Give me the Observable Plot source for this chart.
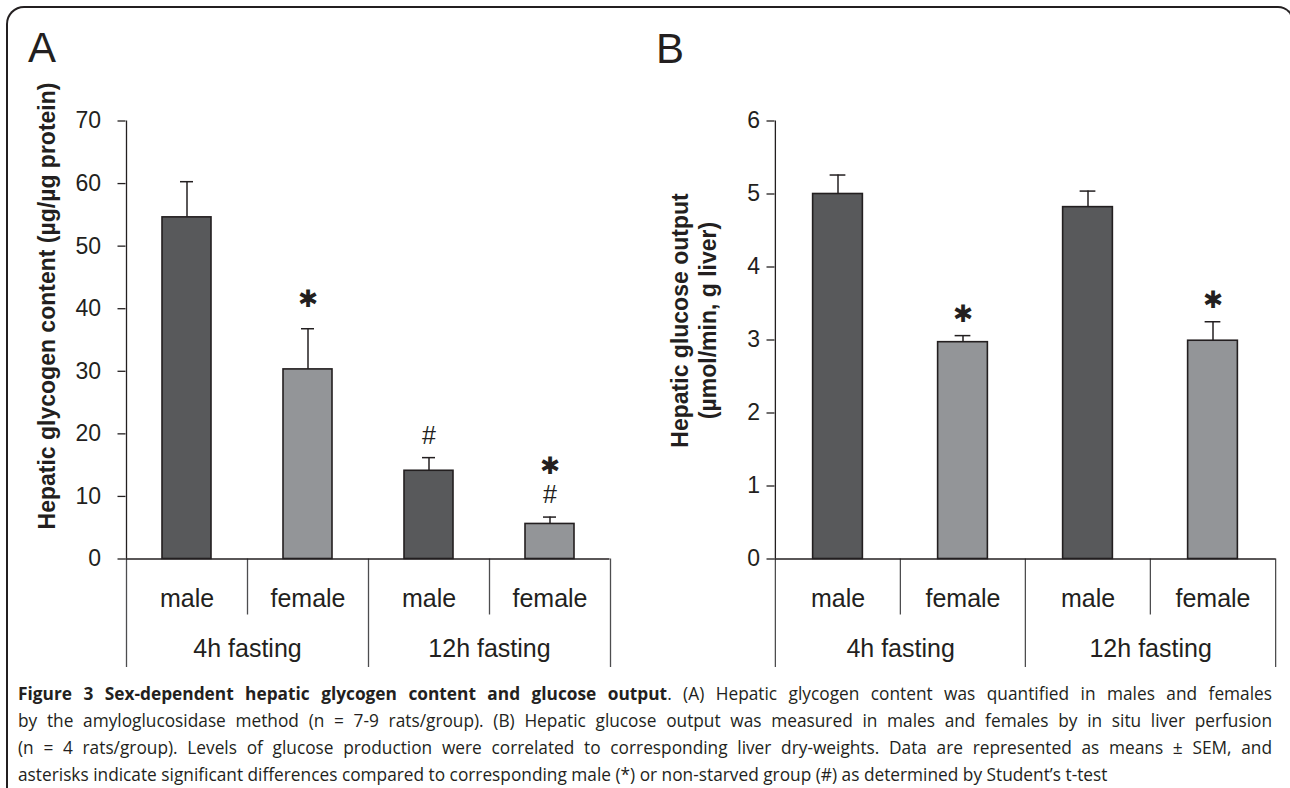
<!DOCTYPE html>
<html>
<head>
<meta charset="utf-8">
<script src="https://cdn.jsdelivr.net/npm/d3@7"></script>
<script src="https://cdn.jsdelivr.net/npm/@observablehq/plot@0.6"></script>
<style>
  html, body { margin: 0; padding: 0; background: #fff; }
  body { width: 1290px; height: 788px; overflow: hidden; position: relative; color: #231f20;
         font-family: "Liberation Sans", Arial, sans-serif; }
  #frame { position: absolute; left: 6px; top: 6px; width: 1288px; height: 1000px; box-sizing: border-box;
           border-top: 2px solid #231f20; border-left: 2px solid #231f20; border-right: 2px solid #231f20;
           border-radius: 18px 16px 0 0; }
  .letter { position: absolute; font-size: 42px; line-height: 1; font-family: "Liberation Sans", Arial, sans-serif; }
  #panelA { position: absolute; left: 0; top: 0; }
  #panelB { position: absolute; left: 645px; top: 0; }
  #caption { position: absolute; left: 18px; top: 680px; width: 1254px; font-family: "Open Sans", sans-serif;
             font-size: 17.3px; line-height: 27px; color: #231f20; }
  #caption .ln { text-align: justify; text-align-last: justify; }
  #caption .ln.last { text-align-last: left; }
</style>
</head>
<body>
<div id="frame"></div>
<div class="letter" style="left:28px;top:26.5px;">A</div>
<div class="letter" style="left:656px;top:27.5px;">B</div>
<div id="panelA"></div>
<div id="panelB"></div>
<div id="caption">
  <div class="ln"><b>Figure 3 Sex-dependent hepatic glycogen content and glucose output</b>. (A) Hepatic glycogen content was quantified in males and females</div>
  <div class="ln">by the amyloglucosidase method (n = 7-9 rats/group). (B) Hepatic glucose output was measured in males and females by in situ liver perfusion</div>
  <div class="ln">(n = 4 rats/group). Levels of glucose production were correlated to corresponding liver dry-weights. Data are represented as means ± SEM, and</div>
  <div class="ln last">asterisks indicate significant differences compared to corresponding male (*) or non-starved group (#) as determined by Student’s t-test</div>
</div>
<script>
// ---- data ----
const groups = ["4h fasting", "12h fasting"];
const sexes = ["male", "female"];
const barColors = ["#58595b", "#939598"];

const glycogenTitle = "Hepatic glycogen content (µg/µg protein)";
const glycogenMean = [54.6, 30.3, 14.1, 5.6];
const glycogenSem = [5.7, 6.5, 2.1, 1.1];
const glycogenTicks = [0, 10, 20, 30, 40, 50, 60, 70];
const glycogenStars = ["4h fasting|female", "12h fasting|female"];
const glycogenHashes = ["12h fasting|male", "12h fasting|female"];

const glucoseTitle = "Hepatic glucose output\n(µmol/min, g liver)";
const glucoseMean = [5.0, 2.97, 4.82, 2.99];
const glucoseSem = [0.26, 0.09, 0.22, 0.26];
const glucoseTicks = [0, 1, 2, 3, 4, 5, 6];
const glucoseStars = ["4h fasting|female", "12h fasting|female"];
const glucoseHashes = [];

const starSymbol = "✱";
const hashSymbol = "#";

// ---- drawing ----
const ink = "#231f20";
const divider = "#4d4d4f";

function panel(cfg) {
  const {means, sems, ticks, title, stars, hashes, width, height, ml, mr, mt, mb,
         tickPadding, barWidth, capWidth, titleDx, titleDy, starDy, starStackDy} = cfg;
  const cats = groups.flatMap(g => sexes.map(s => ({group: g, sex: s, key: g + "|" + s})));
  const keys = cats.map(d => d.key);
  const rows = cats.map((c, i) => ({...c, mean: means[i], top: means[i] + sems[i]}));
  const byKey = new Map(rows.map(r => [r.key, r]));
  const step = (width - ml - mr) / keys.length;
  const innerH = height - mt - mb;
  const barInset = (step - barWidth) / 2;
  const hashRows = hashes.map(k => byKey.get(k));
  const starAlone = stars.filter(k => !hashes.includes(k)).map(k => byKey.get(k));
  const starStacked = stars.filter(k => hashes.includes(k)).map(k => byKey.get(k));
  const groupFirst = groups.map(g => ({group: g, key: g + "|" + sexes[0]}));
  const lastKey = keys[keys.length - 1];
  const starStyle = {fontSize: 24, fontFamily: "DejaVu Sans", lineAnchor: "middle", fill: ink};

  return Plot.plot({
    width, height,
    marginLeft: ml, marginRight: mr, marginTop: mt, marginBottom: mb,
    style: {fontFamily: "Liberation Sans, Arial, sans-serif", color: ink, background: "transparent", overflow: "visible"},
    x: {domain: keys, padding: 0, axis: null},
    y: {domain: [0, ticks[ticks.length - 1]]},
    color: {domain: sexes, range: barColors},
    marks: [
      // category dividers below the axis
      Plot.ruleX(cats.filter(c => c.sex !== sexes[0]), {x: "key", dx: -step / 2, insetTop: innerH, insetBottom: -56, stroke: divider, strokeWidth: 1.3}),
      Plot.ruleX(groupFirst, {x: "key", dx: -step / 2, insetTop: innerH, insetBottom: -108.5, stroke: divider, strokeWidth: 1.3}),
      Plot.ruleX([lastKey], {x: d => d, dx: step / 2, insetTop: innerH, insetBottom: -108.5, stroke: divider, strokeWidth: 1.3}),
      // y axis line
      Plot.ruleX([keys[0]], {x: d => d, dx: -step / 2, stroke: ink, strokeWidth: 1.3}),
      // bars
      Plot.barY(rows, {x: "key", y: "mean", fill: "sex", stroke: ink, strokeWidth: 1.6, insetLeft: barInset, insetRight: barInset}),
      // error bars
      Plot.ruleX(rows, {x: "key", y1: "mean", y2: "top", stroke: ink, strokeWidth: 1.5}),
      Plot.tickY(rows, {x: "key", y: "top", inset: (step - capWidth) / 2, stroke: ink, strokeWidth: 1.5}),
      // zero line
      Plot.ruleY([0], {stroke: ink, strokeWidth: 1.3}),
      Plot.axisY({ticks, tickSize: 8, tickPadding, fontSize: 23, label: null, stroke: ink, strokeWidth: 1.3, tickFormat: d => String(d)}),
      // category labels
      Plot.text(rows, {x: "key", text: "sex", frameAnchor: "bottom", lineAnchor: "top", dy: 30.5, fontSize: 25, fill: ink}),
      Plot.text(groupFirst, {x: "key", text: "group", frameAnchor: "bottom", lineAnchor: "top", dx: step / 2, dy: 80, fontSize: 25, fill: ink}),
      // y title
      Plot.text([title], {text: d => d, frameAnchor: "left", textAnchor: "middle", lineAnchor: "middle", rotate: -90, dx: titleDx, dy: titleDy, fontSize: 23, fontWeight: "bold", lineHeight: 1.2, fill: ink}),
      // significance marks
      Plot.text(hashRows, {x: "key", y: "top", text: () => hashSymbol, dy: -22, fontSize: 25, lineAnchor: "middle", fill: ink}),
      Plot.text(starAlone, {x: "key", y: "top", text: () => starSymbol, dy: starDy, ...starStyle}),
      Plot.text(starStacked, {x: "key", y: "top", text: () => starSymbol, dy: starStackDy, ...starStyle})
    ]
  });
}

document.getElementById("panelA").append(panel({
  means: glycogenMean, sems: glycogenSem, ticks: glycogenTicks, title: glycogenTitle,
  stars: glycogenStars, hashes: glycogenHashes,
  width: 645, height: 680, ml: 125.5, mr: 35.5, mt: 120.5, mb: 121.5,
  tickPadding: 17, barWidth: 49, capWidth: 13, titleDx: -79.5, titleDy: -34,
  starDy: -29, starStackDy: -51
}));

document.getElementById("panelB").append(panel({
  means: glucoseMean, sems: glucoseSem, ticks: glucoseTicks, title: glucoseTitle,
  stars: glucoseStars, hashes: glucoseHashes,
  width: 645, height: 680, ml: 129.5, mr: 14.5, mt: 120.5, mb: 121.5,
  tickPadding: 7, barWidth: 50, capWidth: 16, titleDx: -82, titleDy: -19.5,
  starDy: -21.5, starStackDy: -51
}));
</script>
</body>
</html>
